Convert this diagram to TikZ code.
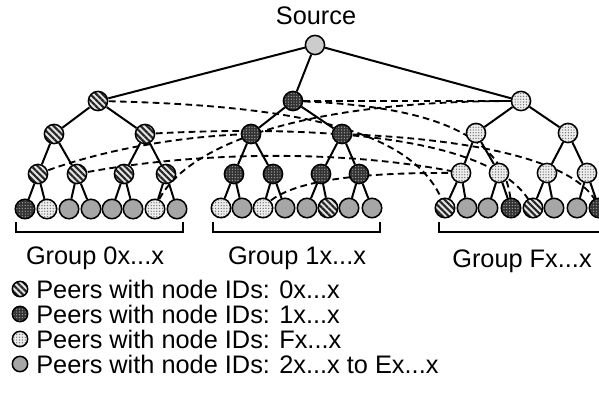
\documentclass[tikz,border=0pt]{standalone}
\usepackage{fontspec}
\setmainfont{Liberation Sans}
\usetikzlibrary{patterns.meta}
\pgfdeclarelayer{edges}
\pgfsetlayers{edges,main}
\begin{document}
\begin{tikzpicture}[x=0.75pt,y=-0.75pt,
  peer/.style={circle,draw=black,line width=1.15pt,inner sep=0pt,minimum size=14.4pt},
  leafpeer/.style={peer,minimum size=14.6pt},
  keypeer/.style={peer,minimum size=11.5pt},
  zero/.style={preaction={fill=black!10},pattern={Lines[angle=-45,distance=3.3pt,line width=1.6pt]},pattern color=black!85},
  one/.style={preaction={fill=black!80},pattern={Dots[distance=2.1pt,radius=0.5pt]},pattern color=black!35},
  eff/.style={preaction={fill=black!7},pattern={Dots[distance=2.1pt,radius=0.5pt]},pattern color=black!60},
  other/.style={fill=black!35},
  src/.style={peer,fill=black!20},
  tree/.style={line width=1.5pt},
  cross/.style={line width=1.4pt,dash pattern=on 5pt off 3.2pt},
  label/.style={font=\fontsize{19pt}{22pt}\selectfont,inner sep=0pt},
  bracket/.style={line width=1.4pt}]
\useasboundingbox (0,0) rectangle (599,396);

% source
\node[label] (srctext) at (316,16) {Source};
\node[src] (S) at (315,45) {};

% group 0 tree
\node[peer,zero] (A0) at (98,101) {};
\node[peer,zero] (A1) at (54,134) {};
\node[peer,zero] (A2) at (145,134) {};
\node[peer,zero] (A3) at (38,174) {};
\node[peer,zero] (A4) at (77,174) {};
\node[peer,zero] (A5) at (124,174) {};
\node[peer,zero] (A6) at (166,174) {};
\node[leafpeer,one]   (a1) at (25,209) {};
\node[leafpeer,eff]   (a2) at (47,209) {};
\node[leafpeer,other] (a3) at (69,209) {};
\node[leafpeer,other] (a4) at (91,209) {};
\node[leafpeer,other] (a5) at (112,209) {};
\node[leafpeer,other] (a6) at (133,209) {};
\node[leafpeer,eff]   (a7) at (155,209) {};
\node[leafpeer,other] (a8) at (177,209) {};

% group 1 tree
\node[peer,one] (B0) at (293,101) {};
\node[peer,one] (B1) at (251,134) {};
\node[peer,one] (B2) at (342,134) {};
\node[peer,one] (B3) at (234,174) {};
\node[peer,one] (B4) at (273,174) {};
\node[peer,one] (B5) at (321,174) {};
\node[peer,one] (B6) at (359,174) {};
\node[leafpeer,eff]   (b1) at (221,208) {};
\node[leafpeer,other] (b2) at (242,208) {};
\node[leafpeer,eff]   (b3) at (263,208) {};
\node[leafpeer,other] (b4) at (285,208) {};
\node[leafpeer,other] (b5) at (307,208) {};
\node[leafpeer,zero]  (b6) at (328,208) {};
\node[leafpeer,other] (b7) at (349,208) {};
\node[leafpeer,other] (b8) at (372,208) {};

% group F tree
\node[peer,eff] (C0) at (521,101) {};
\node[peer,eff] (C1) at (476,133) {};
\node[peer,eff] (C2) at (568,133) {};
\node[peer,eff] (C3) at (461,173) {};
\node[peer,eff] (C4) at (499,173) {};
\node[peer,eff] (C5) at (547,173) {};
\node[peer,eff] (C6) at (587,173) {};
\node[leafpeer,zero]  (c1) at (445,208) {};
\node[leafpeer,other] (c2) at (467,208) {};
\node[leafpeer,other] (c3) at (488,208) {};
\node[leafpeer,one]   (c4) at (511,208) {};
\node[leafpeer,zero]  (c5) at (533,208) {};
\node[leafpeer,other] (c6) at (554,208) {};
\node[leafpeer,other] (c7) at (577,208) {};
\node[leafpeer,one]   (c8) at (599,208) {};

\begin{pgfonlayer}{edges}
% solid tree edges
\foreach \p/\c in {S/A0,S/B0,S/C0,
  A0/A1,A0/A2,A1/A3,A1/A4,A2/A5,A2/A6,
  A3/a1,A3/a2,A4/a3,A4/a4,A5/a5,A5/a6,A6/a7,A6/a8,
  B0/B1,B0/B2,B1/B3,B1/B4,B2/B5,B2/B6,
  B3/b1,B3/b2,B4/b3,B4/b4,B5/b5,B5/b6,B6/b7,B6/b8,
  C0/C1,C0/C2,C1/C3,C1/C4,C2/C5,C2/C6,
  C3/c1,C3/c2,C4/c3,C4/c4,C5/c5,C5/c6,C6/c7,C6/c8}
  \draw[tree] (\p) -- (\c);

% cross-group links
\draw[cross] (B0) -- (C0);
\draw[cross] (A0.center) .. controls (300,105) and (420,130) .. (c1.center);
\draw[cross] (a7.center) .. controls (175,150) and (290,100) .. (C0.center);
\draw[cross] (A3.center) .. controls (100,150) and (180,136) .. (B1.center);
\draw[cross] (A4.center) .. controls (200,150) and (350,150) .. (C3.center);
\draw[cross] (A2.center) .. controls (300,125) and (500,132) .. (c5.center);
\draw[cross] (B0.center) .. controls (420,105) and (510,130) .. (c4.center);
\draw[cross] (B2.center) .. controls (450,138) and (580,155) .. (c8.center);
\draw[cross] (b3.center) .. controls (285,180) and (360,172) .. (C3.center);
\end{pgfonlayer}

% group brackets
\coordinate (g0l) at (16,222); \coordinate (g0r) at (183,222);
\coordinate (g1l) at (213,222); \coordinate (g1r) at (380,222);
\coordinate (g2l) at (439,222); \coordinate (g2r) at (599,232);
\draw[bracket] (g0l) -- ++(0,10) -| (g0r);
\draw[bracket] (g1l) -- ++(0,10) -| (g1r);
\draw[bracket] (g2l) -- ++(0,10) -- (g2r);
\node[label] (grp0) at (95,258) {Group 0x...x};
\node[label] (grp1) at (297,258) {Group 1x...x};
\node[label] (grpF) at (522,261) {Group Fx...x};

% legend
\node[keypeer,zero]  (k0) at (20,289) {};
\node[keypeer,one]   (k1) at (20,314) {};
\node[keypeer,eff]   (kF) at (20,339) {};
\node[keypeer,other] (kX) at (20,364) {};
\node[label,anchor=west] (t0) at (36,289) {Peers with node IDs: 0x...x};
\node[label,anchor=west] (t1) at (36,314) {Peers with node IDs: 1x...x};
\node[label,anchor=west] (tF) at (36,339) {Peers with node IDs: Fx...x};
\node[label,anchor=west] (tX) at (36,364) {Peers with node IDs: 2x...x to Ex...x};
\end{tikzpicture}
\end{document}
